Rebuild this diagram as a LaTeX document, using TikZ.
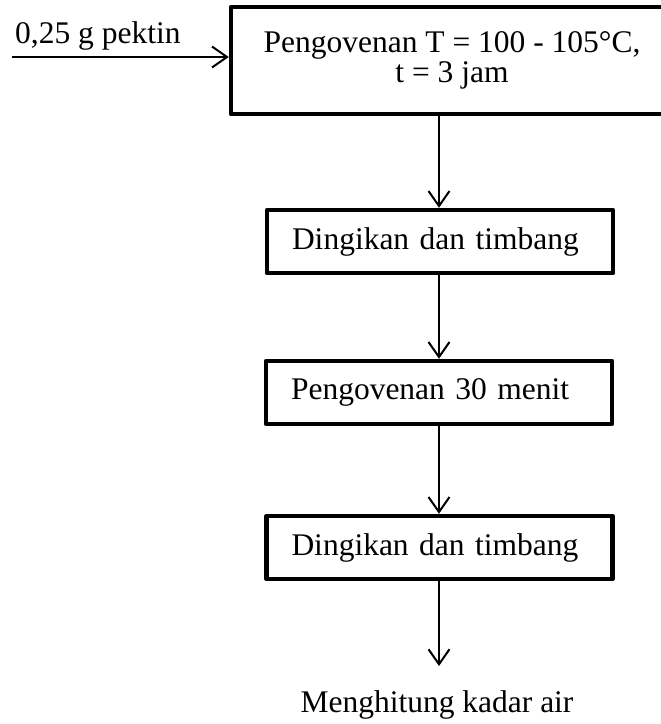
\documentclass[tikz,border=0pt]{standalone}
\usepackage{fontspec}
\setmainfont{Liberation Serif}
\usetikzlibrary{arrows.meta}
\begin{document}
\begin{tikzpicture}[x=1pt,y=-1pt,
  every node/.style={font=\fontsize{31.5}{30}\selectfont},
  procbox/.style={draw, line width=4.5pt, line join=round, inner ysep=0pt,
    minimum height=63pt, text width=296pt, inner xsep=25pt, align=left},
  flow/.style={line width=2pt, -{Straight Barb[length=15pt,width=21pt,line width=2pt]}}]
  \useasboundingbox (0,0) rectangle (661,724);
  % first step, its right side runs past the page edge
  \node[draw, line width=4.5pt, line join=round, minimum width=442pt, minimum height=107pt,
        align=center, inner sep=0pt] (b1) at (452,60.5)
        {Pengovenan T = 100 - 105°C,\\t = 3 jam};
  \node[procbox] (b2) at (440,241.5) {Dingikan dan timbang};
  \node[procbox] (b3) at (439,392.5) {Pengovenan 30 menit};
  \node[procbox] (b4) at (439.5,547.5) {Dingikan dan timbang};
  \node[anchor=base, inner sep=0pt] (res) at (437,712) {Menghitung kadar air};
  \node[anchor=base west, inner sep=0pt] (inlab) at (15,43) {0,25 g pektin};
  \coordinate (in0) at (12,57);
  \coordinate (end) at (439,666);
  % connectors
  \draw[flow] (in0) -- (in0 -| b1.west);
  \draw[flow] (b1.south -| end) -- (b2.north -| end);
  \draw[flow] (b2.south -| end) -- (b3.north -| end);
  \draw[flow] (b3.south -| end) -- (b4.north -| end);
  \draw[flow] (b4.south -| end) -- (end);
\end{tikzpicture}
\end{document}
